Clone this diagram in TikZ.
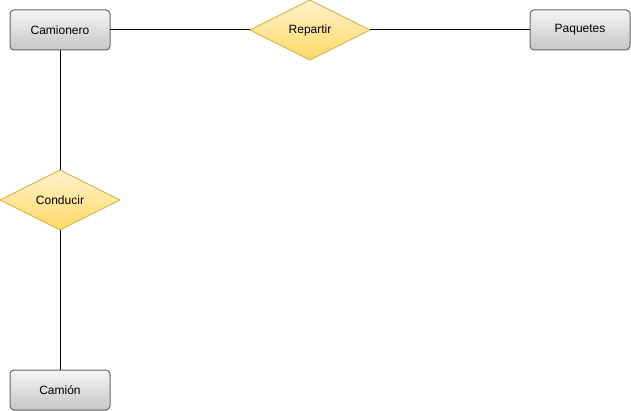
\documentclass[tikz,border=0pt]{standalone}
\usepackage{fontspec}
\setmainfont{Liberation Sans}
\usetikzlibrary{positioning,shapes.geometric}

\definecolor{entline}{HTML}{666666}
\definecolor{enttop}{HTML}{F5F5F5}
\definecolor{entbot}{HTML}{C6C6C6}
\definecolor{relline}{HTML}{D6B656}
\definecolor{reltop}{HTML}{FFF2CC}
\definecolor{relbot}{HTML}{FFD966}

\begin{document}
\begin{tikzpicture}[x=1pt, y=-1pt, line width=1pt,
    font=\fontsize{12}{14}\selectfont,
    entity/.style={draw=entline, top color=enttop, bottom color=entbot, minimum width=100pt, minimum height=40pt, outer sep=0pt, rounded corners=4pt},
    relation/.style={diamond, draw=relline, top color=reltop, bottom color=relbot, minimum width=120pt, minimum height=60pt, inner sep=0pt, outer sep=0pt}]
        \useasboundingbox (0,0) rectangle (631,411);
        \node[entity] (camionero) at (60,30) {Camionero};
        \node[relation, right=140pt of camionero] (repartir) {Repartir};
        \node[entity, right=160pt of repartir] (paquetes) {Paquetes};
        \node[relation, below=120pt of camionero] (conducir) {Conducir};
        \node[entity, below=140pt of conducir] (camion) {Camión};
        \draw (camionero.east) -- (repartir.west);
        \draw (repartir.east) -- (paquetes.west);
        \draw (camionero.south) -- (conducir.north);
        \draw (conducir.south) -- (camion.north);
    \end{tikzpicture}
\end{document}
